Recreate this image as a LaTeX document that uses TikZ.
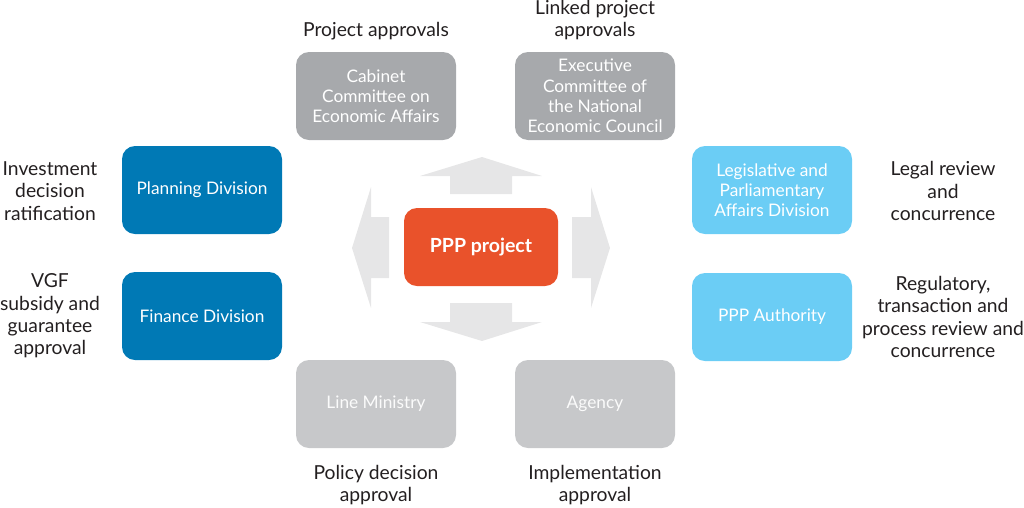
\documentclass[tikz,border=0pt]{standalone}
\usepackage{fontspec}
\setmainfont{Lato}
\definecolor{gtop}{HTML}{A7A9AC}
\definecolor{gbot}{HTML}{C7C8CA}
\definecolor{dblue}{HTML}{0079B5}
\definecolor{lblue}{HTML}{6BCDF5}
\definecolor{orng}{HTML}{E9522B}
\definecolor{arr}{HTML}{E6E6E7}
\definecolor{txt}{HTML}{231F20}
\begin{document}
\begin{tikzpicture}[x=1pt,y=-1pt,
  box/.style={rounded corners=13pt,minimum width=160pt,minimum height=88pt,align=center,text=white,font=\fontsize{17.3}{20.3}\selectfont,inner sep=2pt},
  lab/.style={align=center,text=txt,font=\fontsize{19.3}{22.4}\selectfont,inner sep=0pt}]
\useasboundingbox (0,0) rectangle (1024,507);
% arrows
\fill[arr] (450,194) -- (450,176) -- (420,176) -- (482,157) -- (542,176) -- (512,176) -- (512,194) -- cycle;
\fill[arr] (450,303) -- (450,322) -- (420,322) -- (482,341) -- (542,322) -- (512,322) -- (512,303) -- cycle;
\fill[arr] (389,217) -- (371,217) -- (371,187) -- (352,248) -- (371,308) -- (371,278) -- (389,278) -- cycle;
\fill[arr] (572,217) -- (591,217) -- (591,187) -- (610,248) -- (591,308) -- (591,278) -- (572,278) -- cycle;
% boxes
\node[box,fill=orng,minimum width=154pt,minimum height=78pt,font=\bfseries\fontsize{19.5}{22}\selectfont] (ppp) at (481,247) {PPP project};
\node[box,fill=gtop] (cab) at (376,96) {Cabinet\\Committee on\\Economic Affairs};
\node[box,fill=gtop] (exe) at (595,96) {Executive\\Committee of\\the National\\Economic Council};
\node[box,fill=gbot,text=white!93!gbot] (line) at (376,404) {Line Ministry};
\node[box,fill=gbot,text=white!93!gbot] (agy) at (595,404) {Agency};
\node[box,fill=dblue] (plan) at (202,190) {Planning Division};
\node[box,fill=dblue] (fin) at (202,316) {Finance Division};
\node[box,fill=lblue] (leg) at (772,190) {Legislative and\\Parliamentary\\Affairs Division};
\node[box,fill=lblue] (auth) at (772,317) {PPP Authority};
% labels
\node[lab] (l1) at (376,31) {Project approvals};
\node[lab] (l2) at (595,20) {Linked project\\approvals};
\node[lab] (l3) at (50,191) {Investment\\decision\\ratification};
\node[lab] (l4) at (50,316) {VGF\\subsidy and\\guarantee\\approval};
\node[lab] (l5) at (943,191) {Legal review\\and\\concurrence};
\node[lab] (l6) at (943,317) {Regulatory,\\transaction and\\process review and\\concurrence};
\node[lab] (l7) at (376,485) {Policy decision\\approval};
\node[lab] (l8) at (595,485) {Implementation\\approval};
\end{tikzpicture}
\end{document}
